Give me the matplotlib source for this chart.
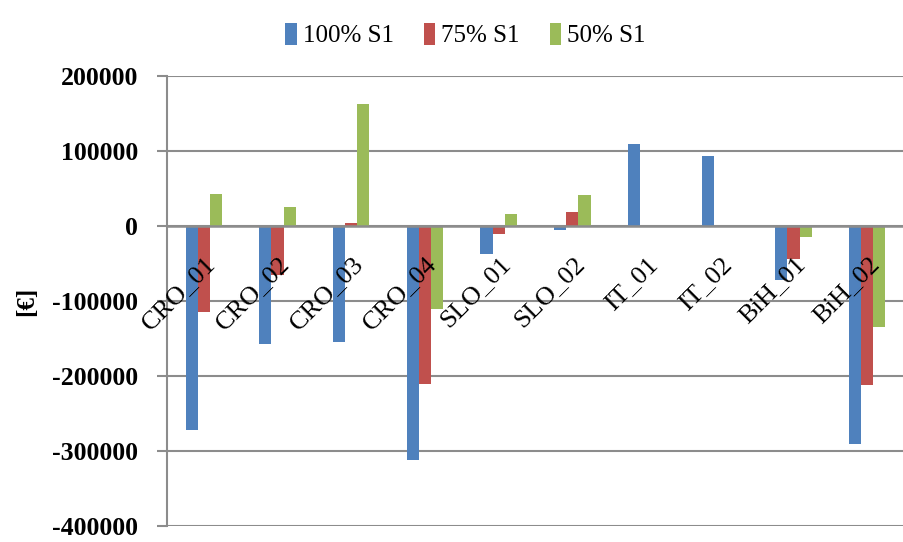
import matplotlib.pyplot as plt
import numpy as np

# cost difference per site for three shares of scenario S1
sites = ["CRO_01", "CRO_02", "CRO_03", "CRO_04", "SLO_01", "SLO_02",
         "IT_01", "IT_02", "BiH_01", "BiH_02"]
s1_100 = [-272000, -157000, -154000, -312000, -37000, -5000, 109000, 93000, -72000, -291000]
s1_75 = [-114000, -65000, 4000, -211000, -10500, 18500, 0, 0, -44000, -212000]
s1_50 = [42500, 25000, 163000, -111000, 16000, 41000, 0, 0, -14500, -134000]
series_names = ["100% S1", "75% S1", "50% S1"]
colors = ["#4F81BD", "#C0504D", "#9BBB59"]

serif = "Liberation Serif"
grid_col = "#8c8c8c"

fig = plt.figure(figsize=(9.04, 5.42), dpi=100)
ax = fig.add_axes([167 / 904, 16 / 542, 737 / 904, 450 / 542])

x = np.arange(len(sites))
w = 0.165
for i, (vals, name, c) in enumerate(zip([s1_100, s1_75, s1_50], series_names, colors)):
    ax.bar(x + (i - 1) * w, vals, width=w, color=c, label=name, zorder=3)

ax.set_xlim(-0.5, len(sites) - 0.5)
ax.set_ylim(-400000, 200000)
ax.set_yticks(np.arange(-400000, 200001, 100000))
ax.yaxis.grid(True, color=grid_col, linewidth=1.5)
ax.yaxis.set_zorder(0.5)

for s in ["top", "right"]:
    ax.spines[s].set_visible(False)
ax.spines["left"].set_color(grid_col)
ax.spines["left"].set_linewidth(1.5)
ax.spines["bottom"].set_position(("data", 0))
ax.spines["bottom"].set_color(grid_col)
ax.spines["bottom"].set_linewidth(1.8)
ax.spines["bottom"].set_zorder(4)

ax.tick_params(axis="y", length=7, width=1.5, color=grid_col, pad=14)
ax.set_yticklabels([str(v) for v in ax.get_yticks().astype(int)],
                   fontfamily=serif, fontweight="bold", fontsize=18.5)
ax.set_xticks([])

# site names sit under the zero line, on top of the bars
for xi, name in zip(x, sites):
    ax.annotate(name, (xi, 0), xytext=(6, -25), textcoords="offset points",
                rotation=45, ha="right", va="center", rotation_mode="anchor",
                fontfamily=serif, fontsize=19, zorder=6, annotation_clip=False)

ax.set_ylabel("[€]", fontfamily=serif, fontweight="bold", fontsize=18, labelpad=10)

fig.legend(loc="upper center", bbox_to_anchor=(0.515, 1.0), ncol=3, frameon=False,
           prop={"family": serif, "size": 18}, handlelength=0.45, handleheight=1.0,
           handletextpad=0.25, columnspacing=1.2)

fig.savefig("out.png", dpi=100)
